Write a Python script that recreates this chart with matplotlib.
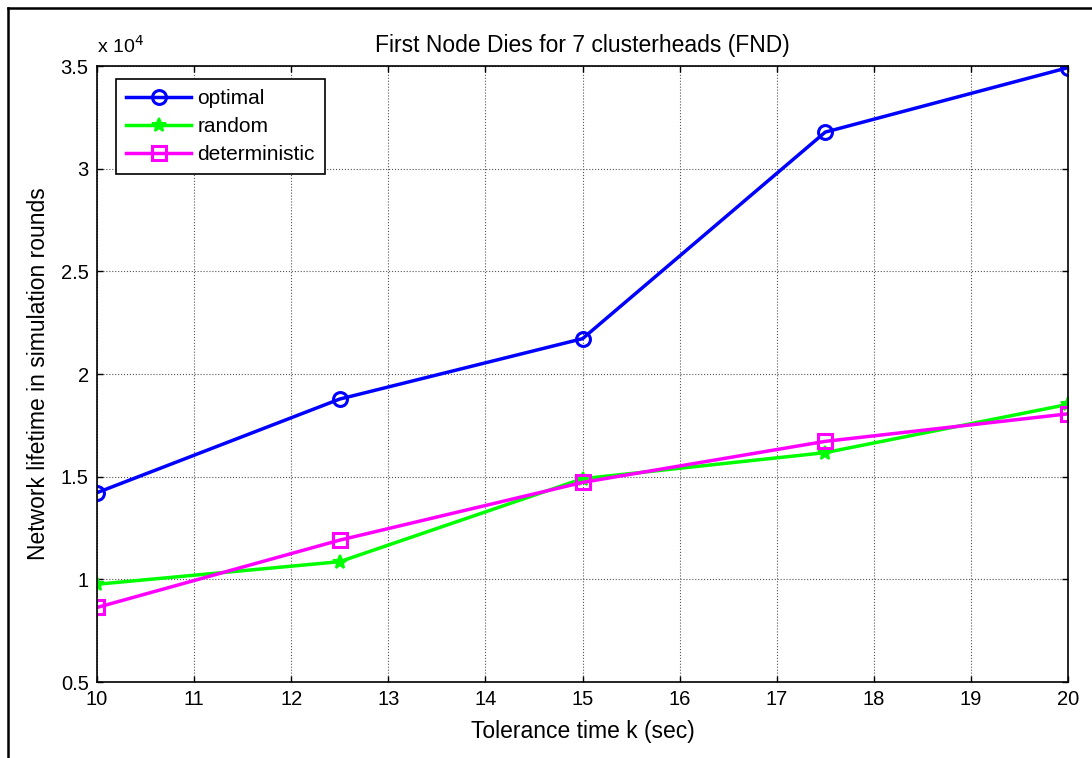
import matplotlib
matplotlib.use("Agg")
import matplotlib.pyplot as plt
from matplotlib.lines import Line2D
from matplotlib.ticker import FuncFormatter, MultipleLocator

plt.rcParams['font.family'] = ['Liberation Sans', 'DejaVu Sans']

tolerance = [10, 12.5, 15, 17.5, 20]
optimal = [14220, 18780, 21720, 31780, 34920]
random_ch = [9760, 10860, 14900, 16170, 18520]
deterministic = [8630, 11910, 14720, 16720, 18060]

title = "First Node Dies for 7 clusterheads (FND)"
xlabel = "Tolerance time k (sec)"
ylabel = "Network lifetime in simulation rounds"

fig = plt.figure(figsize=(10.92, 7.58), dpi=100)
ax = fig.add_axes([97/1092, 1-682/758, (1068-97)/1092, (682-66)/758])

ax.plot(tolerance, optimal, color=(0, 0, 1), lw=2.5, marker='o', ms=10,
        mfc='none', mew=2.2, label='optimal')
ax.plot(tolerance, random_ch, color=(0, 1, 0), lw=2.5, marker='*', ms=10,
        mew=1.5, label='random')
ax.plot(tolerance, deterministic, color=(1, 0, 1), lw=2.5, marker='s', ms=10,
        mfc='none', mew=2.2, label='deterministic')

ax.set_xlim(10, 20)
ax.set_ylim(5000, 35000)
ax.xaxis.set_major_locator(MultipleLocator(1))
ax.yaxis.set_major_locator(MultipleLocator(5000))
ax.yaxis.set_major_formatter(FuncFormatter(lambda v, p: '%g' % (v / 1e4)))
ax.tick_params(direction='in', top=True, right=True, length=4, width=1,
               labelsize=14.5, pad=6)
ax.grid(True, color='#555555', linestyle=':', linewidth=0.8)
for s in ax.spines.values():
    s.set_linewidth(1.2)

ax.set_title(title, fontsize=16.5, pad=10)
ax.set_xlabel(xlabel, fontsize=16.5, labelpad=8)
ax.set_ylabel(ylabel, fontsize=16.5, labelpad=8)
ax.text(0, 1.015, r'x 10$^4$', transform=ax.transAxes, fontsize=14,
        ha='left', va='bottom')

leg = ax.legend(loc='upper left', bbox_to_anchor=(0.0196, 0.979),
                borderaxespad=0, fancybox=False, framealpha=1,
                edgecolor='black', fontsize=15, handlelength=3.1,
                handletextpad=0.3, labelspacing=0.42, borderpad=0.5)
leg.get_frame().set_linewidth(1.2)

fig.add_artist(Line2D([8/1092, 8/1092], [0, 1-8/758], transform=fig.transFigure,
                      color='black', lw=1.8))
fig.add_artist(Line2D([8/1092, 1], [1-8/758, 1-8/758], transform=fig.transFigure,
                      color='black', lw=1.8))

fig.savefig('out.png', dpi=100)
